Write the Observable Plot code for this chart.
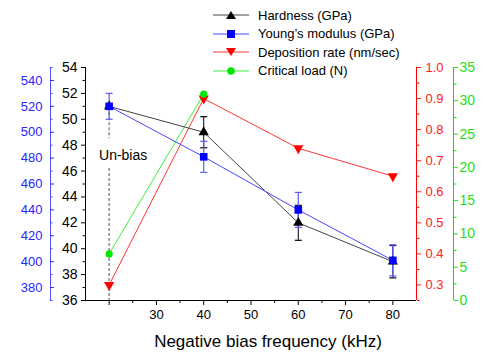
<!DOCTYPE html>
<html><head><meta charset="utf-8">
<script src="https://cdn.jsdelivr.net/npm/d3@7"></script>
<script src="https://cdn.jsdelivr.net/npm/@observablehq/plot@0.6"></script>
<style>
body{margin:0;background:#fff;font-family:"Liberation Sans",Arial,sans-serif;}
#wrap{position:relative;width:483px;height:354px;}
#legend{position:absolute;left:213px;top:6px;font-size:13px;color:#000;}
.row{display:flex;align-items:center;height:18.5px;white-space:nowrap;}
.row svg{width:36px;height:14px;margin-right:9px;flex:none;}
</style></head><body><div id="wrap"><div id="legend"></div></div>
<script>
// ---- data ----
const freq = [20, 40, 60, 80];
const hardness = [51.0, 49.0, 42.0, 39.0];
const hardnessErr = [null, 1.2, 1.35, 1.25];   // no visible bar for the un-biased sample
const modulus = [520, 481, 440, 401];
const modulusErr = [10, 12, 13.5, 12];
const depRate = [0.30, 0.90, 0.74, 0.65];
const loadFreq = [20, 40];
const critLoad = [7, 31];

// tick labels
const freqTicks = [20, 30, 40, 50, 60, 70, 80];
const freqMinor = [25, 35, 45, 55, 65, 75];
const hardTicks = [36, 38, 40, 42, 44, 46, 48, 50, 52, 54];
const hardMinor = [37, 39, 41, 43, 45, 47, 49, 51, 53];
const modTicks = [380, 400, 420, 440, 460, 480, 500, 520, 540];
const modMinor = [370, 390, 410, 430, 450, 470, 490, 510, 530, 550];
const rateTicks = [0.3, 0.4, 0.5, 0.6, 0.7, 0.8, 0.9, 1.0];
const rateMinor = [0.25, 0.35, 0.45, 0.55, 0.65, 0.75, 0.85, 0.95];
const loadTicks = [0, 5, 10, 15, 20, 25, 30, 35];
const loadMinor = [2.5, 7.5, 12.5, 17.5, 22.5, 27.5, 32.5];

const seriesNames = ["Hardness (GPa)", "Young\u2019s modulus (GPa)", "Deposition rate (nm/sec)", "Critical load (N)"];
const unbiasFreq = 20;
const unbiasLabelLevel = 47.2;       // in hardness units
const unbiasSegments = [[50.9, 48.5], [46.2, 36]];

// ---- axis mappings onto the hardness scale ----
const modDomain = [370, 550], rateDomain = [0.25, 1.0], loadDomain = [0, 35], hardDomain = [36, 54];
const span = hardDomain[1] - hardDomain[0];
const toH = (dom) => v => hardDomain[0] + (v - dom[0]) / (dom[1] - dom[0]) * span;
const fromH = (dom) => h => dom[0] + (h - hardDomain[0]) / span * (dom[1] - dom[0]);
const mY = toH(modDomain), rY = toH(rateDomain), lY = toH(loadDomain);

const COL = {
  black: "#000000", blackLine: "#444444",
  blue: "#0000ff", blueLine: "#4646ff", blueText: "#2626ff",
  red: "#ff0000", redLine: "#ff3535", redText: "#ff2020",
  green: "#00e600", greenLine: "#3cf03c", greenText: "#22e022"
};

const hRows = freq.map((f, i) => ({f, v: hardness[i], err: hardnessErr[i]}));
const hErrRows = hRows.filter(d => d.err != null).map(d => ({f: d.f, lo: d.v - d.err, hi: d.v + d.err}));
const mRows = freq.map((f, i) => ({f, v: mY(modulus[i]), lo: mY(modulus[i] - modulusErr[i]), hi: mY(modulus[i] + modulusErr[i])}));
const rRows = freq.map((f, i) => ({f, v: rY(depRate[i])}));
const lRows = loadFreq.map((f, i) => ({f, v: lY(critLoad[i])}));

const cap = {draw(ctx, size) { const w = Math.sqrt(size / Math.PI); ctx.moveTo(-w, 0); ctx.lineTo(w, 0); }};
const font = "Liberation Sans, Arial, sans-serif";

const chart = Plot.plot({
  width: 483, height: 354,
  marginLeft: 85, marginRight: 67, marginTop: 67, marginBottom: 54,
  x: {domain: [15, 85]},
  y: {domain: hardDomain},
  style: {fontFamily: font, fontSize: "13px", overflow: "visible", background: "white"},
  marks: [
    // x axis
    Plot.axisX(freqTicks, {tickSize: 5, tickPadding: 4, fontSize: 13, tickFormat: d => d === unbiasFreq ? "" : d, label: null}),
    Plot.axisX(freqMinor, {tickSize: 3, tickFormat: () => "", label: null}),
    Plot.ruleY([hardDomain[0]], {stroke: "#000"}),
    Plot.text(["Negative bias frequency (kHz)"], {frameAnchor: "bottom", dy: 41, dx: 17, fontSize: 17, lineAnchor: "middle", fill: "#000"}),
    // hardness axis (black)
    Plot.ruleX([15], {stroke: "#000"}),
    Plot.axisY(hardTicks, {anchor: "left", tickSize: 4, tickPadding: 4, fontSize: 14, label: null}),
    Plot.axisY(hardMinor, {anchor: "left", tickSize: 2.5, tickFormat: () => "", label: null}),
    // modulus axis (blue)
    Plot.ruleX([15], {dx: -35, stroke: "#5050ff"}),
    Plot.axisY(modTicks.map(mY), {anchor: "left", dx: -35, tickSize: -4, tickPadding: 12, fontSize: 13, color: COL.blueText, tickFormat: h => Math.round(fromH(modDomain)(h)), label: null}),
    Plot.axisY(modMinor.map(mY), {anchor: "left", dx: -35, tickSize: -2.5, color: "#5050ff", tickFormat: () => "", label: null}),
    // deposition rate axis (red)
    Plot.ruleX([85], {stroke: COL.red}),
    Plot.axisY(rateTicks.map(rY), {anchor: "right", tickSize: 4, tickPadding: 5, fontSize: 13, color: COL.redText, tickFormat: h => fromH(rateDomain)(h).toFixed(1), label: null}),
    Plot.axisY(rateMinor.map(rY), {anchor: "right", tickSize: 2.5, color: COL.red, tickFormat: () => "", label: null}),
    // critical load axis (green)
    Plot.ruleX([85], {dx: 37, stroke: COL.green}),
    Plot.axisY(loadTicks.map(lY), {anchor: "right", dx: 37, tickSize: 4, tickPadding: 2, fontSize: 14, color: COL.greenText, tickFormat: h => Math.round(fromH(loadDomain)(h)), label: null}),
    Plot.axisY(loadMinor.map(lY), {anchor: "right", dx: 37, tickSize: 2.5, color: COL.green, tickFormat: () => "", label: null}),
    // un-bias annotation
    Plot.ruleX(unbiasSegments, {x: () => unbiasFreq, y1: d => d[0], y2: d => d[1], stroke: "#808080", strokeWidth: 1.4, strokeDasharray: "3,2"}),
    Plot.text(["Un-bias"], {x: () => unbiasFreq, y: () => unbiasLabelLevel, dx: 14, fontSize: 14, fill: "#000"}),
    // lines
    Plot.line(lRows, {x: "f", y: "v", stroke: COL.greenLine, strokeWidth: 1}),
    Plot.line(rRows, {x: "f", y: "v", stroke: COL.redLine, strokeWidth: 1}),
    Plot.line(hRows, {x: "f", y: "v", stroke: COL.blackLine, strokeWidth: 1}),
    Plot.line(mRows, {x: "f", y: "v", stroke: COL.blueLine, strokeWidth: 1}),
    // error bars
    Plot.ruleX(hErrRows, {x: "f", y1: "lo", y2: "hi", stroke: "#000", strokeWidth: 1}),
    Plot.dot(hErrRows, {x: "f", y: "lo", symbol: cap, r: 3.5, stroke: "#000", strokeWidth: 1.2}),
    Plot.dot(hErrRows, {x: "f", y: "hi", symbol: cap, r: 3.5, stroke: "#000", strokeWidth: 1.2}),
    Plot.ruleX(mRows, {x: "f", y1: "lo", y2: "hi", stroke: "#5a5aff", strokeWidth: 1.2}),
    Plot.dot(mRows, {x: "f", y: "lo", symbol: cap, r: 3.5, stroke: "#5a5aff", strokeWidth: 1.2}),
    Plot.dot(mRows, {x: "f", y: "hi", symbol: cap, r: 3.5, stroke: "#5a5aff", strokeWidth: 1.2}),
    // markers
    Plot.dot(hRows, {x: "f", y: "v", symbol: "triangle", r: 3.8, fill: COL.black, stroke: null}),
    Plot.dot(mRows, {x: "f", y: "v", symbol: "square", r: 4.3, fill: COL.blue, stroke: null}),
    Plot.dot(rRows, {x: "f", y: "v", symbol: "triangle", r: 3.8, rotate: 180, fill: COL.red, stroke: null}),
    Plot.dot(lRows, {x: "f", y: "v", symbol: "circle", r: 3.6, fill: COL.green, stroke: null})
  ]
});
document.getElementById("wrap").prepend(chart);

// ---- legend ----
const legendDefs = [
  {line: COL.blackLine, fill: COL.black, sym: "tri"},
  {line: COL.blueLine, fill: COL.blue, sym: "sq"},
  {line: COL.redLine, fill: COL.red, sym: "tridown"},
  {line: COL.greenLine, fill: COL.green, sym: "circ"}
];
const lg = document.getElementById("legend");
seriesNames.forEach((name, i) => {
  const d = legendDefs[i];
  let shape;
  if (d.sym === "tri") shape = `<path d="M18,3 L23,11 L13,11 Z" fill="${d.fill}"/>`;
  else if (d.sym === "sq") shape = `<rect x="14" y="3" width="8" height="8" fill="${d.fill}"/>`;
  else if (d.sym === "tridown") shape = `<path d="M13,3 L23,3 L18,11 Z" fill="${d.fill}"/>`;
  else shape = `<circle cx="18" cy="7" r="3.8" fill="${d.fill}"/>`;
  const row = document.createElement("div");
  row.className = "row";
  row.innerHTML = `<svg viewBox="0 0 36 14"><line x1="0" y1="7" x2="36" y2="7" stroke="${d.line}" stroke-width="1"/>${shape}</svg><span>${name}</span>`;
  lg.appendChild(row);
});
</script>
</body></html>
